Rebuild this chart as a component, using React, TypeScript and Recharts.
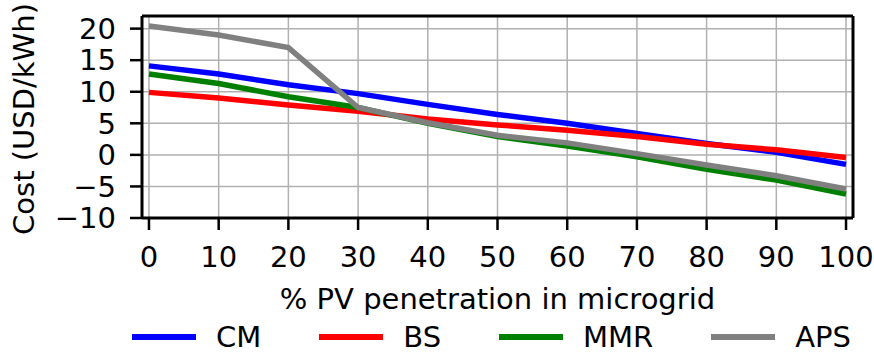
import React from 'react';
import { LineChart, Line, XAxis, YAxis, CartesianGrid, ReferenceLine, Legend } from 'recharts';

const pv = [0, 10, 20, 30, 40, 50, 60, 70, 80, 90, 100];
const cm = [14.1, 12.8, 11.1, 9.7, 8.0, 6.4, 5.0, 3.4, 1.8, 0.4, -1.5];
const bs = [9.9, 9.0, 7.9, 6.9, 5.7, 4.75, 3.9, 2.9, 1.7, 0.8, -0.4];
const mmr = [12.8, 11.3, 9.2, 7.5, 5.0, 2.9, 1.4, -0.3, -2.3, -4.0, -6.2];
const aps = [20.4, 19.0, 17.0, 7.5, 5.1, 3.1, 1.9, 0.2, -1.6, -3.3, -5.4];

const xTicks = [0, 10, 20, 30, 40, 50, 60, 70, 80, 90, 100];
const yTicks = [-10, -5, 0, 5, 10, 15, 20];

const seriesInfo = [
  { key: 'CM', color: '#0000ff', values: cm },
  { key: 'BS', color: '#ff0000', values: bs },
  { key: 'MMR', color: '#008000', values: mmr },
  { key: 'APS', color: '#808080', values: aps },
];

const data = pv.map((x, i) => {
  const row: any = { x };
  seriesInfo.forEach((s) => {
    row[s.key] = s.values[i];
  });
  return row;
});

const FONT = 'DejaVu Sans';
const FS = 29;

const fmt = (v: number) => (v < 0 ? '\u2212' + Math.abs(v) : String(v));

const XLabel = (props: any) => {
  const vb = props.viewBox || {};
  return (
    <text
      x={vb.x + vb.width / 2}
      y={vb.y + 91}
      textAnchor="middle"
      fontFamily={FONT}
      fontSize={FS}
      fill="#000"
    >
      % PV penetration in microgrid
    </text>
  );
};

const YLabel = (props: any) => {
  const vb = props.viewBox || {};
  const cx = 34;
  const cy = vb.y + vb.height / 2 + 2;
  return (
    <text
      x={cx}
      y={cy}
      transform={`rotate(-90, ${cx}, ${cy})`}
      textAnchor="middle"
      fontFamily={FONT}
      fontSize={FS}
      fill="#000"
    >
      Cost (USD/kWh)
    </text>
  );
};

const LegendContent = () => (
  <div style={{ display: 'flex', alignItems: 'center', fontFamily: FONT, fontSize: FS, lineHeight: '32px', height: 32, color: '#000', whiteSpace: 'nowrap' }}>
    {seriesInfo.map((s, i) => (
      <div key={s.key} style={{ display: 'flex', alignItems: 'center', marginLeft: i === 0 ? 0 : 58 }}>
        <div style={{ width: 64, height: 6, background: s.color }} />
        <span style={{ marginLeft: 20 }}>{s.key}</span>
      </div>
    ))}
  </div>
);

export default function App() {
  return (
    <div style={{ position: 'absolute', left: 0, top: 0, width: 874, height: 356 }}>
      <LineChart width={874} height={356} data={data} margin={{ top: 16, right: 21, left: 0, bottom: 0 }}>
        <CartesianGrid stroke="#b0b0b0" strokeWidth={1.5} />
        <XAxis
          dataKey="x"
          type="number"
          domain={[-1, 101]}
          ticks={xTicks}
          height={106}
          tickSize={12}
          tickMargin={16}
          axisLine={{ stroke: '#000', strokeWidth: 3 }}
          tickLine={{ stroke: '#000', strokeWidth: 2.5 }}
          tick={{ fill: '#000', fontSize: FS, fontFamily: FONT }}
          interval={0}
          label={<XLabel />}
        />
        <YAxis
          type="number"
          domain={[-10, 22]}
          ticks={yTicks}
          width={142}
          tickSize={12}
          tickMargin={14}
          tickFormatter={fmt}
          axisLine={{ stroke: '#000', strokeWidth: 3 }}
          tickLine={{ stroke: '#000', strokeWidth: 2.5 }}
          tick={{ fill: '#000', fontSize: FS, fontFamily: FONT }}
          interval={0}
          label={<YLabel />}
        />
        {seriesInfo.map((s) => (
          <Line
            key={s.key}
            type="linear"
            dataKey={s.key}
            stroke={s.color}
            strokeWidth={5.5}
            dot={false}
            activeDot={false}
            isAnimationActive={false}
          />
        ))}
        <ReferenceLine y={22} stroke="#000" strokeWidth={3} />
        <ReferenceLine x={101} stroke="#000" strokeWidth={3} />
        <Legend
          layout="horizontal"
          verticalAlign="bottom"
          align="left"
          height={32}
          content={<LegendContent />}
          wrapperStyle={{ position: 'absolute', left: 132, top: 321, width: 'auto', height: 32 }}
        />
      </LineChart>
    </div>
  );
}
